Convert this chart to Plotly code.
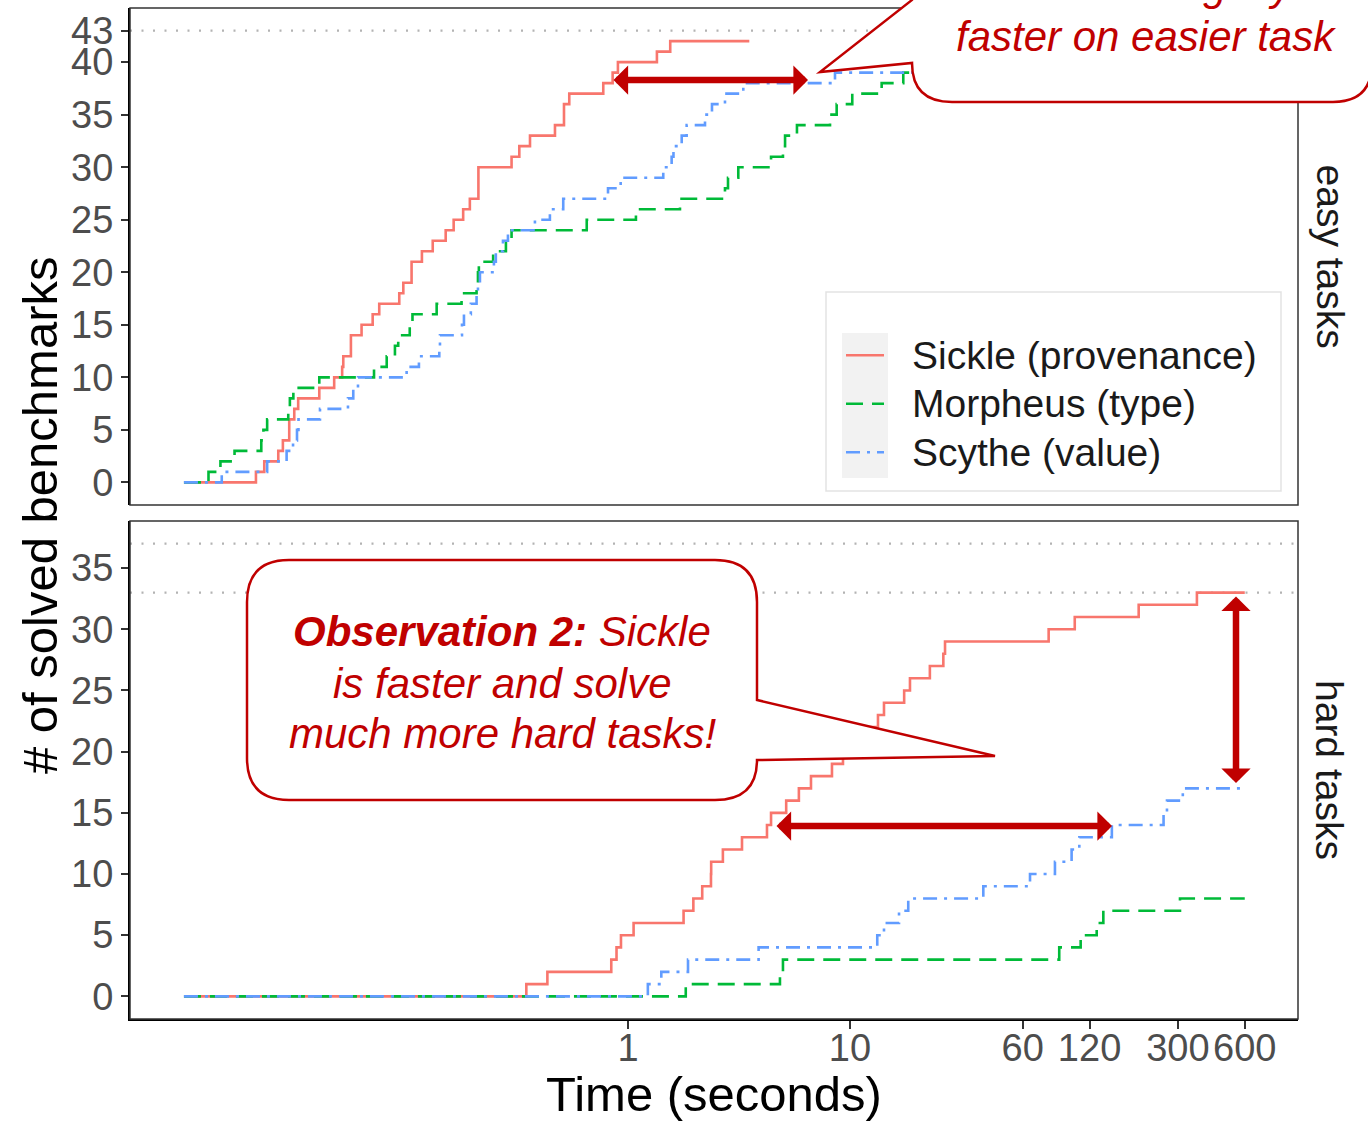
import plotly.graph_objects as go

W, H = 1368, 1121

# ---------------- data ----------------
series_names = ["Sickle (provenance)", "Morpheus (type)", "Scythe (value)"]
series_colors = ["#F8766D", "#00BA38", "#619CFF"]
series_dash = ["solid", "17px,9px", "14px,7px,3px,7px"]
legend_key_dash = ["38px,300px", "17px,9px,12px,300px", "14px,7px,3px,7px,7px,300px"]

start_time = 0.01

# times (s) at which each benchmark got solved – easy tasks
easy_sickle = [0.0211, 0.0230, 0.0266, 0.0279, 0.0298, 0.0298, 0.0314, 0.0327, 0.0407, 0.0475,
               0.0516, 0.0522, 0.0565, 0.0565, 0.0631, 0.0708, 0.0758, 0.0933, 0.0973, 0.106,
               0.106, 0.118, 0.132, 0.151, 0.164, 0.181, 0.194, 0.212, 0.212, 0.212,
               0.299, 0.324, 0.362, 0.469, 0.515, 0.515, 0.544, 0.774, 0.853, 0.901,
               1.35, 1.55]
easy_morpheus = [0.0129, 0.0146, 0.0169, 0.0223, 0.0228, 0.0237, 0.0295, 0.0300, 0.0311, 0.0407,
                 0.0718, 0.0819, 0.0892, 0.0923, 0.104, 0.107, 0.1375, 0.178, 0.208, 0.211,
                 0.213, 0.247, 0.282, 0.299, 0.652, 1.086, 1.715, 2.735, 2.822, 3.14,
                 4.41, 4.99, 5.10, 5.77, 8.13, 8.71, 10.24, 13.89, 17.38]
easy_scythe = [0.0148, 0.0237, 0.0290, 0.0310, 0.0323, 0.0328, 0.0410, 0.0548, 0.0579, 0.0608,
               0.1007, 0.1144, 0.1413, 0.1423, 0.1788, 0.1825, 0.196, 0.208, 0.211, 0.2154,
               0.249, 0.254, 0.2735, 0.288, 0.381, 0.445, 0.511, 0.813, 0.927, 1.442,
               1.573, 1.603, 1.746, 1.838, 2.223, 2.39, 2.735, 3.307, 8.56]
easy_end = [3.52, 30.0, 30.0]

# hard tasks
hard_sickle = [0.3485, 0.4335, 0.841, 0.888, 0.930, 1.06, 1.78, 1.97, 2.16, 2.365,
               2.37, 2.676, 3.263, 4.228, 4.41, 5.16, 5.886, 6.673, 8.296, 9.30,
               10.53, 11.93, 13.37, 14.23, 17.54, 18.63, 22.9, 26.33, 26.8, 78.5,
               102.9, 199.7, 365.3]
hard_morpheus = [1.821, 4.837, 4.99, 87.6, 109.4, 129.2, 138.4, 306.5]
hard_scythe = [1.229, 1.413, 1.864, 3.876, 13.27, 14.23, 16.63, 18.3, 39.86, 64.7,
               83.8, 99.6, 107.9, 151.2, 258.5, 267.8, 315.6]
hard_end = [600.0, 600.0, 600.0]

easy_total = 43
hard_total = 37
hard_best = 33

x_tick_vals = [1, 10, 60, 120, 300, 600]
x_tick_text = ["1", "10", "60", "120", "300", "600"]
easy_y_ticks = [0, 5, 10, 15, 20, 25, 30, 35, 40, 43]
hard_y_ticks = [0, 5, 10, 15, 20, 25, 30, 35]

# ---------------- helpers for layout (pixels -> paper) ----------------
def fx(x):
    return x / W

def fy(y):
    return 1 - y / H

def P(x, y):
    return f"{fx(x):.5f},{fy(y):.5f}"

FONT = "Liberation Sans, Arial, sans-serif"
DARKRED = "#C00000"

fig = go.Figure()

def steps(times, end):
    xs = [start_time] + list(times) + [end]
    ys = [0] + list(range(1, len(times) + 1)) + [len(times)]
    return xs, ys

easy_sets = [easy_sickle, easy_morpheus, easy_scythe]
hard_sets = [hard_sickle, hard_morpheus, hard_scythe]

for i in range(3):
    xs, ys = steps(easy_sets[i], easy_end[i])
    fig.add_trace(go.Scatter(x=xs, y=ys, mode="lines", line_shape="hv",
                             line=dict(color=series_colors[i], width=2.6, dash=series_dash[i]),
                             name=series_names[i], legendgroup=series_names[i],
                             showlegend=False, xaxis="x", yaxis="y"))
for i in range(3):
    xs, ys = steps(hard_sets[i], hard_end[i])
    fig.add_trace(go.Scatter(x=xs, y=ys, mode="lines", line_shape="hv",
                             line=dict(color=series_colors[i], width=2.6, dash=series_dash[i]),
                             name=series_names[i], legendgroup=series_names[i],
                             showlegend=False, xaxis="x2", yaxis="y2"))
# legend entries (key line styled like ggplot key)
for i in range(3):
    fig.add_trace(go.Scatter(x=[None], y=[None], mode="lines",
                             line=dict(color=series_colors[i], width=2.6, dash=legend_key_dash[i]),
                             name=f'<span style="font-size:39px">{series_names[i]}</span>',
                             legendgroup=series_names[i], showlegend=True,
                             xaxis="x", yaxis="y", hoverinfo="skip"))

xdom = [fx(130), fx(1298)]
top_dom = [fy(505), fy(8)]
bot_dom = [fy(1019), fy(521)]
xrange_log = [-2.243, 3.018]

tickfont = dict(family=FONT, size=38, color="#4D4D4D")

fig.update_layout(
    width=W, height=H,
    margin=dict(l=0, r=0, t=0, b=0),
    paper_bgcolor="white", plot_bgcolor="white",
    font=dict(family=FONT),
    xaxis=dict(type="log", domain=xdom, range=xrange_log, anchor="y",
               showticklabels=False, ticks="", showgrid=False, zeroline=False,
               showline=False, automargin=False),
    yaxis=dict(domain=top_dom, range=[-2.15, 45.15], anchor="x",
               tickvals=easy_y_ticks, ticks="outside", ticklen=7, tickwidth=1.5,
               tickcolor="#333333", tickfont=tickfont, showgrid=False, zeroline=False,
               showline=True, linecolor="black", linewidth=2, automargin=False),
    xaxis2=dict(type="log", domain=xdom, range=xrange_log, anchor="y2",
                tickvals=x_tick_vals, ticktext=x_tick_text, tickangle=0,
                ticks="outside", ticklen=8, tickwidth=1.5, tickcolor="#333333",
                ticklabelstandoff=-14,
                tickfont=tickfont, showgrid=False, zeroline=False,
                showline=True, linecolor="black", linewidth=2, automargin=False,
                title=dict(text="Time (seconds)", font=dict(family=FONT, size=49, color="black"),
                           standoff=28)),
    yaxis2=dict(domain=bot_dom, range=[-1.85, 38.85], anchor="x2",
                tickvals=hard_y_ticks, ticks="outside", ticklen=7, tickwidth=1.5,
                tickcolor="#333333", tickfont=tickfont, showgrid=False, zeroline=False,
                showline=True, linecolor="black", linewidth=2, automargin=False),
    legend=dict(x=fx(841), y=fy(326), xanchor="left", yanchor="top",
                bgcolor="rgba(0,0,0,0)", borderwidth=0, itemwidth=61,
                font=dict(family=FONT, size=35, color="#1A1A1A"),
                tracegroupgap=0),
    showlegend=True,
)

shapes = []
# legend box + key background
shapes.append(dict(type="rect", xref="paper", yref="paper", x0=fx(826), x1=fx(1281),
                   y0=fy(491), y1=fy(292), line=dict(color="#E3E3E3", width=1.5),
                   fillcolor="white", layer="below"))
shapes.append(dict(type="rect", xref="paper", yref="paper", x0=fx(842), x1=fx(888),
                   y0=fy(478), y1=fy(333), line=dict(width=0),
                   fillcolor="#F2F2F2", layer="below"))
# dotted reference lines
for yv, yr, xr in [(easy_total, "y", "x"), (hard_total, "y2", "x2"), (hard_best, "y2", "x2")]:
    shapes.append(dict(type="line", xref=f"{xr} domain", yref=yr, x0=0, x1=1, y0=yv, y1=yv,
                       line=dict(color="#B3B3B3", width=2.2, dash="2px,9.5px"), layer="below"))
# panel borders
for xr, yr in [("x", "y"), ("x2", "y2")]:
    shapes.append(dict(type="rect", xref=f"{xr} domain", yref=f"{yr} domain",
                       x0=0, x1=1, y0=0, y1=1, line=dict(color="#333333", width=1.5),
                       fillcolor="rgba(0,0,0,0)", layer="above"))
# callout bubbles
bottom_path = ("M " + P(289, 560) + " L " + P(715, 560) + " Q " + P(757, 560) + " " + P(757, 602) +
               " L " + P(757, 700) + " L " + P(995, 756) + " L " + P(757, 760) +
               " Q " + P(757, 800) + " " + P(715, 800) + " L " + P(289, 800) +
               " Q " + P(247, 800) + " " + P(247, 758) + " L " + P(247, 602) +
               " Q " + P(247, 560) + " " + P(289, 560) + " Z")
top_path = ("M " + P(912, -150) + " L " + P(912, 0) + " L " + P(820, 72) + " L " + P(912, 63) +
            " Q " + P(912, 102) + " " + P(952, 102) + " L " + P(1333, 102) +
            " Q " + P(1372, 102) + " " + P(1372, 63) + " L " + P(1372, -150) + " Z")
for pth in [bottom_path, top_path]:
    shapes.append(dict(type="path", xref="paper", yref="paper", path=pth,
                       fillcolor="white", line=dict(color=DARKRED, width=2.5), layer="above"))
fig.update_layout(shapes=shapes)

ann = []
# y axis title
ann.append(dict(text="# of solved benchmarks", x=fx(40), y=fy(515), xref="paper", yref="paper",
                textangle=-90, showarrow=False, font=dict(family=FONT, size=49, color="black"),
                xanchor="center", yanchor="middle"))
# strip labels
for lab, yc in [("easy tasks", 256.5), ("hard tasks", 770)]:
    ann.append(dict(text=lab, x=fx(1330), y=fy(yc), xref="paper", yref="paper", textangle=90,
                    showarrow=False, font=dict(family=FONT, size=39, color="#1A1A1A"),
                    xanchor="center", yanchor="middle"))
# callout texts
callout_font = dict(family=FONT, size=42, color=DARKRED)
for txt, xc, yc in [
    ("<i><b>Observation 2:</b> Sickle</i>", 502, 631),
    ("<i>is faster and solve</i>", 502, 683),
    ("<i>much more hard tasks!</i>", 502, 733),
    ("<i><b>Observation 1:</b></i>", 1146, -65),
    ("<i>Sickle is slightly</i>", 1146, -14),
    ("<i>faster on easier task</i>", 1146, 37),
]:
    ann.append(dict(text=txt, x=fx(xc), y=fy(yc), xref="paper", yref="paper", showarrow=False,
                    font=callout_font, xanchor="center", yanchor="middle"))
# double-headed arrows
for (hx, hy, tx, ty) in [(808, 80, 612, 80), (1112, 826, 775, 826), (1236, 783, 1236, 595)]:
    ann.append(dict(text="", x=fx(hx), y=fy(hy), xref="paper", yref="paper",
                    ax=tx - hx, ay=ty - hy, axref="pixel", ayref="pixel",
                    showarrow=True, arrowhead=1, startarrowhead=1, arrowside="end+start",
                    arrowwidth=6.5, arrowsize=0.75, startarrowsize=0.75,
                    arrowcolor=DARKRED, standoff=0, startstandoff=0))
fig.update_layout(annotations=ann)

fig.write_html("out.html", config={"displayModeBar": False},
               post_script="document.body.style.margin='0';document.body.style.overflow='hidden';")
